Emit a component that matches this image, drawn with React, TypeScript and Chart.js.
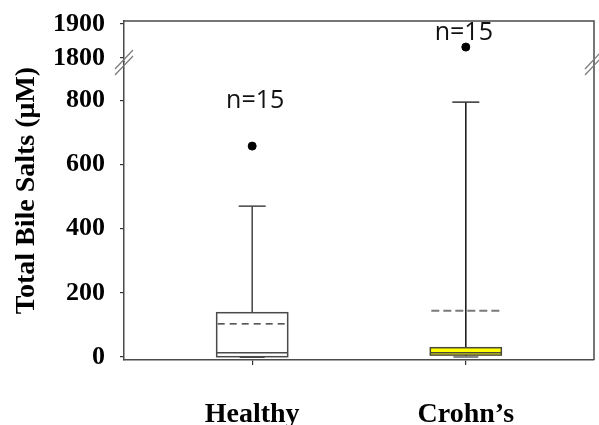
import React, { useEffect, useRef } from 'react';
import { Chart, registerables } from 'chart.js';

Chart.register(...registerables);

// ---- data ----
const groups = ['Healthy', 'Crohn\u2019s'];
const whiskerLow = [0, 0];
const q1 = [1, 6];
const median = [13, 13];
const q3 = [138, 29];
const whiskerHigh = [470, 794];
const means = [103, 144];
const outliers = [657, 1832];
const counts = ['n=15', 'n=15'];
const lowerTicks = [0, 200, 400, 600, 800];
const upperTicks = [1800, 1900];
const BREAK_AT = 1000; // values above go on upper (broken) axis

const boxFills = ['rgba(255,255,255,0)', '#ffff00'];
const boxBorders = ['#4a4a4a', '#4a4a3a'];
const whiskerColors = ['#444444', '#111111'];
const meanColors = ['#222222', '#7a7a7a'];

const serif = '"Liberation Serif", "Times New Roman", serif';

const boxPlugin = {
  id: 'boxExtras',
  afterDatasetsDraw(chart: any) {
    const { ctx, scales, chartArea } = chart;
    const xs = scales.x;
    const yl = scales.yLow;
    const yu = scales.yTop;
    const yp = (v: number) => (v > BREAK_AT ? yu : yl).getPixelForValue(v);
    const half = 35.5;
    ctx.save();
    groups.forEach((_, i) => {
      const cx = xs.getPixelForValue(i);
      // whiskers
      ctx.strokeStyle = whiskerColors[i];
      ctx.lineWidth = 1.5;
      ctx.setLineDash([]);
      ctx.beginPath();
      ctx.moveTo(cx, yp(q3[i]));
      ctx.lineTo(cx, yp(whiskerHigh[i]));
      ctx.moveTo(cx, yp(q1[i]));
      ctx.lineTo(cx, yp(whiskerLow[i]));
      ctx.stroke();
      // caps
      ctx.strokeStyle = i === 0 ? '#444' : '#333';
      ctx.beginPath();
      ctx.moveTo(cx - 13.5, yp(whiskerHigh[i]));
      ctx.lineTo(cx + 13.5, yp(whiskerHigh[i]));
      ctx.stroke();
      ctx.strokeStyle = i === 0 ? '#444' : '#888';
      ctx.lineWidth = 2;
      ctx.beginPath();
      ctx.moveTo(cx - 12.5, yp(whiskerLow[i]));
      ctx.lineTo(cx + 12.5, yp(whiskerLow[i]));
      ctx.stroke();
      // box
      const top = yp(q3[i]);
      const bot = yp(q1[i]);
      ctx.fillStyle = boxFills[i];
      ctx.fillRect(cx - half, top, half * 2, bot - top);
      ctx.strokeStyle = boxBorders[i];
      ctx.lineWidth = 1.5;
      ctx.strokeRect(cx - half, top, half * 2, bot - top);
      // median
      ctx.beginPath();
      ctx.moveTo(cx - half, yp(median[i]));
      ctx.lineTo(cx + half, yp(median[i]));
      ctx.stroke();
      // mean (dashed)
      ctx.strokeStyle = meanColors[i];
      ctx.lineWidth = i === 0 ? 1.3 : 2;
      ctx.setLineDash(i === 0 ? [7, 5] : [8, 4]);
      ctx.beginPath();
      ctx.moveTo(cx - half + 1, yp(means[i]));
      ctx.lineTo(cx + half, yp(means[i]));
      ctx.stroke();
      ctx.setLineDash([]);
    });
    // n labels
    ctx.fillStyle = '#111';
    ctx.font = '25px "Open Sans", "Liberation Sans", sans-serif';
    ctx.textAlign = 'center';
    ctx.textBaseline = 'middle';
    ctx.fillText(counts[0], xs.getPixelForValue(0) + 3, yl.getPixelForValue(797));
    ctx.fillText(counts[1], xs.getPixelForValue(1) - 2, yu.getPixelForValue(1874));

    // frame
    const { left, right, top, bottom } = chartArea;
    ctx.strokeStyle = '#4a4a4a';
    ctx.lineWidth = 1.5;
    ctx.beginPath();
    ctx.moveTo(left, top);
    ctx.lineTo(right, top);
    ctx.lineTo(right, bottom);
    ctx.stroke();

    // break marks
    const by = yu.bottom + 3;
    ctx.strokeStyle = '#7a7a7a';
    ctx.lineWidth = 1.2;
    [left, right].forEach((bx) => {
      ctx.beginPath();
      ctx.moveTo(bx - 9, by + 10);
      ctx.lineTo(bx + 9, by - 9);
      ctx.moveTo(bx - 9, by + 4);
      ctx.lineTo(bx + 9, by - 15);
      ctx.stroke();
    });

    // y title
    ctx.save();
    ctx.translate(34, (top + bottom) / 2);
    ctx.rotate(-Math.PI / 2);
    ctx.fillStyle = '#000';
    ctx.font = 'bold 28px ' + serif;
    ctx.textAlign = 'center';
    ctx.textBaseline = 'alphabetic';
    ctx.fillText('Total Bile Salts (\u03bcM)', 0, 0);
    ctx.restore();
    ctx.restore();
  },
};

export default function App() {
  const ref = useRef<HTMLCanvasElement | null>(null);
  useEffect(() => {
    document.body.style.margin = '0';
    if (!ref.current) return;
    const tickFont = { family: serif, size: 26, weight: 'bold' as const };
    const yCommon = (ticksArr: number[]) => ({
      type: 'linear' as const,
      position: 'left' as const,
      stack: 'yb',
      afterBuildTicks: (s: any) => {
        s.ticks = ticksArr.map((v) => ({ value: v }));
      },
      afterFit: (s: any) => {
        s.width = 124;
        s.paddingTop = 0;
        s.paddingBottom = 0;
        s.paddingLeft = 0;
        s.paddingRight = 0;
      },
      ticks: {
        font: tickFont,
        color: '#000',
        padding: 15,
        autoSkip: false,
        callback: (v: any) => String(v),
      },
      grid: { drawOnChartArea: false, tickLength: 4, color: '#333', lineWidth: 1.2 },
      border: { display: true, color: '#4a4a4a', width: 1.5 },
    });
    const chart = new Chart(ref.current, {
      type: 'scatter',
      data: {
        datasets: [
          {
            label: 'outliers low',
            data: groups
              .map((_, i) => ({ x: i, y: outliers[i] }))
              .filter((p) => p.y <= BREAK_AT),
            yAxisID: 'yLow',
            pointRadius: 4,
            pointBackgroundColor: '#000',
            pointBorderColor: '#000',
          },
          {
            label: 'outliers high',
            data: groups
              .map((_, i) => ({ x: i, y: outliers[i] }))
              .filter((p) => p.y > BREAK_AT),
            yAxisID: 'yTop',
            pointRadius: 4,
            pointBackgroundColor: '#000',
            pointBorderColor: '#000',
          },
        ],
      },
      options: {
        animation: false,
        responsive: false,
        maintainAspectRatio: false,
        layout: { padding: { top: 21, right: 2, left: 0, bottom: 0 } },
        plugins: { legend: { display: false }, tooltip: { enabled: false } },
        scales: {
          x: {
            type: 'linear',
            min: -0.6,
            max: 1.6,
            afterBuildTicks: (s: any) => {
              s.ticks = groups.map((_, i) => ({ value: i }));
            },
            afterFit: (s: any) => {
              s.height = 65;
              s.paddingLeft = 0;
              s.paddingRight = 0;
              s.paddingTop = 0;
              s.paddingBottom = 0;
            },
            ticks: {
              callback: (v: any) => groups[v as number] ?? '',
              font: { family: serif, size: 28, weight: 'bold' },
              color: '#000',
              padding: 33,
              maxRotation: 0,
              autoSkip: false,
            },
            grid: { drawOnChartArea: false, tickLength: 5, color: '#333', lineWidth: 1.2 },
            border: { display: true, color: '#4a4a4a', width: 1.5 },
          },
          yLow: { ...yCommon(lowerTicks), min: -9.3, max: 919, stackWeight: 298, weight: 0 },
          yTop: { ...yCommon(upperTicks), min: 1788, max: 1909, stackWeight: 41, weight: 1 },
        },
      } as any,
      plugins: [boxPlugin],
    });
    return () => chart.destroy();
  }, []);
  return (
    <div style={{ width: 599, height: 425 }}>
      <canvas ref={ref} width={599} height={425} style={{ width: 599, height: 425, display: 'block' }} />
    </div>
  );
}
